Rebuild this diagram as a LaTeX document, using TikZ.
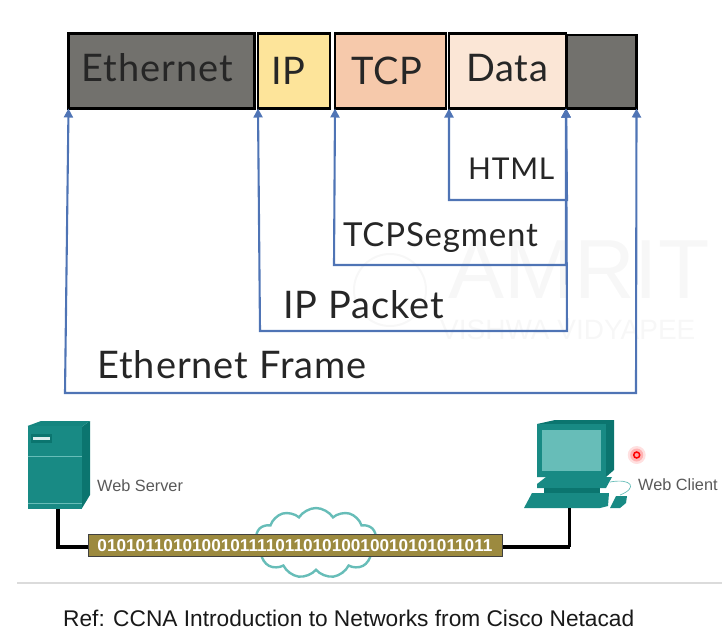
\documentclass[tikz,border=0pt]{standalone}
\usepackage{fontspec}
\setmainfont{Liberation Sans}
\newfontfamily\slidefont[LetterSpace=2.5]{Lato}
\usetikzlibrary{arrows.meta,shapes.symbols}
\definecolor{linkblue}{HTML}{4F74B5}
\definecolor{framegray}{HTML}{72716D}
\definecolor{ipyellow}{HTML}{FDE49A}
\definecolor{tcporange}{HTML}{F6C9AB}
\definecolor{datacream}{HTML}{FBE6D6}
\definecolor{teal}{HTML}{188A84}
\definecolor{tealdark}{HTML}{0B756F}
\definecolor{teallight}{HTML}{67BDB8}
\definecolor{stripgold}{HTML}{9C8A3F}
\definecolor{markgray}{HTML}{F7F7F7}
\begin{document}
\begin{tikzpicture}[x=1pt,y=-1pt]
	
	\tikzset{fieldbox/.style={draw=black, line width=2.4pt, anchor=north west, outer sep=0pt, minimum height=75pt, align=left, font=\slidefont\fontsize{38}{38}\selectfont, text=black!85}}
	\tikzset{span/.style={draw=linkblue, line width=2.1pt, {Triangle[length=9pt,width=9pt]}-{Triangle[length=9pt,width=9pt]}}}
	\tikzset{spanlabel/.style={anchor=west, inner sep=0pt, font=\slidefont\fontsize{38}{38}\selectfont, text=black!85}}
	\tikzset{cable/.style={draw=black, line width=3.4pt}}
	\tikzset{hostlabel/.style={anchor=west, inner sep=0pt, text=black!65, font=\fontsize{16.3}{16.3}\selectfont}}
	
	\useasboundingbox (0,0) rectangle (725,638);
	
	% faint mark behind the frame
	\draw[markgray, line width=2pt] (390,290) circle (36);
	\node[anchor=west, inner sep=0pt, text=markgray, font=\fontsize{84}{84}\selectfont] (markname) at (448,270) {AMRIT};
	\node[anchor=west, inner sep=0pt, text=markgray, font=\fontsize{28}{28}\selectfont] (markschool) at (440,330) {VISHWA VIDYAPEE};
	
	% header fields
	\node[fieldbox, fill=framegray, minimum width=186pt, text width=160pt, inner xsep=13pt, text depth=6pt] (ethernet) at (68.5,33.5) {Ethernet};
	\node[fieldbox, fill=ipyellow, minimum width=72pt, text width=46pt, inner xsep=13pt] (ip) at (258,33.5) {IP};
	\node[fieldbox, fill=tcporange, minimum width=111pt, text width=79pt, inner xsep=16pt] (tcp) at (335,33.5) {TCP};
	\node[fieldbox, fill=datacream, minimum width=117pt, text width=83pt, inner xsep=17pt, text depth=6pt] (data) at (449,33.5) {Data};
	\node[fieldbox, fill=framegray, minimum width=70pt, minimum height=73.5pt] (trailer) at (566.5,35) {};
	
	% spans under the fields
	\coordinate (framebase) at (65,393);
	\coordinate (frameend) at (636,393);
	\coordinate (packetbase) at (260,331);
	\coordinate (packetend) at (567,331);
	\coordinate (segmentbase) at (334,265);
	\coordinate (segmentend) at (566,265);
	\coordinate (htmlbase) at (449,200);
	\coordinate (htmlend) at (567,200);
	
	\draw[span] (ethernet.south west) -- (framebase) -- (frameend) -- (trailer.south east);
	\draw[span] (ip.south west) -- (packetbase) -- (packetend) -- (data.south east);
	\draw[span] (tcp.south west) -- (segmentbase) -- (segmentend) -- (data.south east);
	\draw[span] (data.south west) -- (htmlbase) -- (htmlend) -- (data.south east);
	
	\node[spanlabel] (htmllabel) at (468,169) {\fontsize{30}{30}\selectfont HTML};
	\node[spanlabel] (segmentlabel) at (343,238) {\fontsize{33}{33}\selectfont TCPSegment};
	\node[spanlabel] (packetlabel) at (283,305) {IP Packet};
	\node[spanlabel] (framelabel) at (97,365) {Ethernet Frame};
	
	% server
	\fill[tealdark] (81.5,427) -- (90,421) -- (90,495) -- (81.5,509) -- cycle;
	\fill[teal!75!tealdark] (27.5,426) -- (41,421) -- (90,421) -- (81.5,427) -- cycle;
	\fill[teal] (27.5,426) rectangle (81.5,509);
	\draw[teallight, line width=0.8pt] (27.5,456) -- (81.5,456);
	\draw[teallight, line width=0.8pt] (27.5,503) -- (81.5,503);
	\fill[tealdark] (31,434) rectangle (52,443);
	\fill[white!85!teal] (33,437) rectangle (50,440);
	\node[hostlabel] (serverlabel) at (97,486) {Web Server};
	
	% client
	\fill[tealdark] (537,424) -- (555,420) -- (614,420) -- (614,470) -- (606,477) -- (537,477) -- cycle;
	\fill[teal] (537,424) -- (606,424) -- (606,477) -- (537,477) -- cycle;
	\fill[teallight] (542,430) rectangle (601,471);
	\fill[teal] (537,484) -- (546,477) -- (612,477) -- (606,488) -- (537,488) -- cycle;
	\fill[tealdark] (544,488) rectangle (600,493);
	\fill[teal] (524,508) -- (532,493) -- (609,493) -- (608,506) -- (600,508) -- cycle;
	\fill[teal] (610,508) -- (616,496) -- (627,496) -- (626,503) -- (620,508) -- cycle;
	\draw[teallight, line width=0.7pt] (610,482) .. controls (632,478) and (638,488) .. (620,495);
	\node[hostlabel] (clientlabel) at (638,485) {Web Client};
	
	% pointer dot
	\fill[red!12] (636.7,455) circle (9);
	\fill[red!30] (636.7,455) circle (6.5);
	\draw[red, line width=1.5pt, fill=red!35] (636.7,455) circle (3);
	
	% link
	\coordinate (serverfoot) at (58,509);
	\coordinate (clientfoot) at (569.5,508);
	\node[cloud, cloud puffs=11, cloud puff arc=115, aspect=1.6, draw=teallight, line width=2.4pt, fill=white, minimum width=124pt, minimum height=70pt, inner sep=0pt] (cloudnet) at (316,543) {};
	\draw[cable] (serverfoot) |- (clientfoot |- 0,547);
	\draw[cable] (clientfoot) -- (clientfoot |- 0,547);
	\node[draw=black!75, line width=1pt, fill=stripgold, text=white, minimum width=414pt, minimum height=22.5pt, inner sep=0pt, font=\bfseries\fontsize{17.2}{17.2}\selectfont] (bitstrip) at (295,545.5) {010101101010010111101101010010010101011011};
	
	% footer
	\draw[black!14, line width=1.5pt] (17,583) -- (722,583);
	\node[anchor=west, inner sep=0pt, text=black!90, font=\fontsize{22.7}{22.7}\selectfont] (reftext) at (63,618) {Ref: CCNA Introduction to Networks from Cisco Netacad};
	
\end{tikzpicture}
\end{document}
